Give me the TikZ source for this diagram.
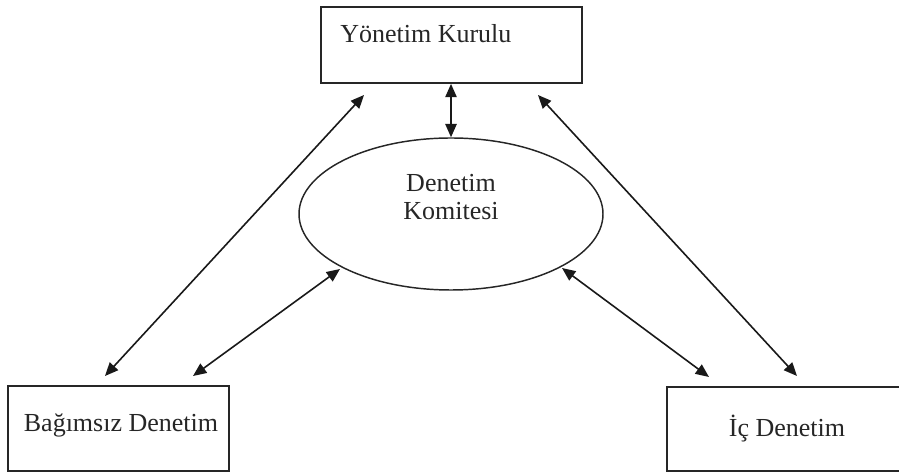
\documentclass[tikz,border=0pt]{standalone}
\usepackage{fontspec}
\setmainfont{Liberation Serif}
\usetikzlibrary{shapes.geometric,arrows.meta}
\tikzset{
  boxnode/.style={draw=black!85, line width=1.3pt, rectangle, inner sep=0pt},
  ovalnode/.style={draw=black!85, line width=1.1pt, ellipse, inner sep=0pt},
  lbl/.style={font=\fontsize{19.5pt}{23pt}\selectfont, text=black!85, inner sep=0pt},
  biarrow/.style={line width=1.2pt, draw=black!90, {Triangle[length=10pt,width=8.5pt]}-{Triangle[length=10pt,width=8.5pt]}}
}
\begin{document}
\begin{tikzpicture}[x=0.75pt,y=-0.75pt]
\useasboundingbox (0,0) rectangle (899,473);
\clip (0,0) rectangle (899,473);
% boxes
\node[boxnode, minimum width=195.75pt, minimum height=57pt] (board) at (451.5,45) {};
\node[boxnode, minimum width=165.75pt, minimum height=63.75pt] (indep) at (118.5,428.5) {};
\node[boxnode, minimum width=178.5pt, minimum height=63pt] (internal) at (786,429) {};
\node[ovalnode, minimum width=228pt, minimum height=114pt] (committee) at (451,214) {};
% labels
\node[lbl, anchor=base west] (boardtxt) at (340,43) {Yönetim Kurulu};
\node[lbl, anchor=base] (comtxt1) at (451,192) {Denetim};
\node[lbl, anchor=base] (comtxt2) at (451,220) {Komitesi};
\node[lbl, anchor=base] (indeptxt) at (121,432) {Bağımsız Denetim};
\node[lbl, anchor=base] (inttxt) at (787,437) {İç Denetim};
% arrow end points
\coordinate (bl) at (364,95);
\coordinate (br) at (538,95);
\coordinate (il) at (105,376);
\coordinate (is) at (193,376);
\coordinate (cl) at (340,269);
\coordinate (cr) at (562,268);
\coordinate (ns) at (709,377);
\coordinate (nl) at (797,376);
% connectors
\draw[biarrow] (board.south -| committee.north) -- (committee.north);
\draw[biarrow] (bl) -- (il);
\draw[biarrow] (cl) -- (is);
\draw[biarrow] (cr) -- (ns);
\draw[biarrow] (br) -- (nl);
\end{tikzpicture}
\end{document}
